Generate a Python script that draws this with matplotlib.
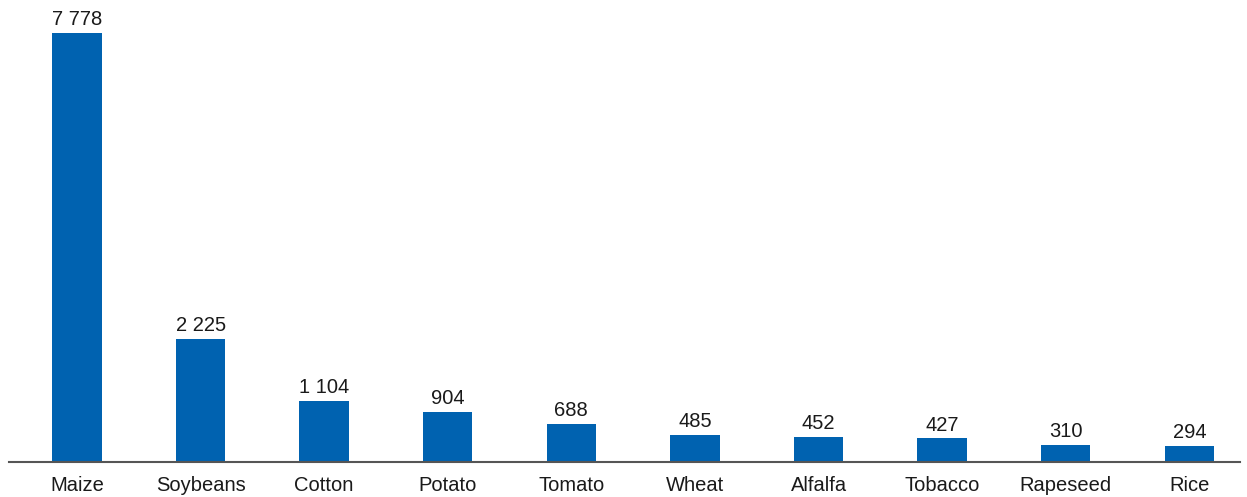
import matplotlib
matplotlib.use("Agg")
import matplotlib.pyplot as plt

crops = ["Maize", "Soybeans", "Cotton", "Potato", "Tomato", "Wheat", "Alfalfa", "Tobacco", "Rapeseed", "Rice"]
values = [7778, 2225, 1104, 904, 688, 485, 452, 427, 310, 294]
labels = ["7 778", "2 225", "1 104", "904", "688", "485", "452", "427", "310", "294"]

plt.rcParams['font.family'] = ['Liberation Sans', 'DejaVu Sans']

fig = plt.figure(figsize=(12.47, 4.97), dpi=100)
ax = fig.add_axes([9/1247, 35/497, (1240-9)/1247, (462-5)/497])
x = list(range(len(crops)))
ax.bar(x, values, width=0.40, color="#0062B0")
for xi, v, lab in zip(x, values, labels):
    ax.text(xi, v + 70, lab, ha="center", va="bottom", fontsize=14.5, color="#1a1a1a")
ax.set_xlim(-0.55, 9.41)
ax.set_ylim(0, 7778 * 457 / 429)
ax.set_xticks(x)
ax.set_xticklabels(crops, fontsize=14.5, color="#1a1a1a")
ax.tick_params(axis="x", length=0, pad=10)
ax.set_yticks([])
for s in ["top", "right", "left"]:
    ax.spines[s].set_visible(False)
ax.spines["bottom"].set_color("#555555")
ax.spines["bottom"].set_linewidth(1.5)
fig.savefig("out.png", dpi=100)
